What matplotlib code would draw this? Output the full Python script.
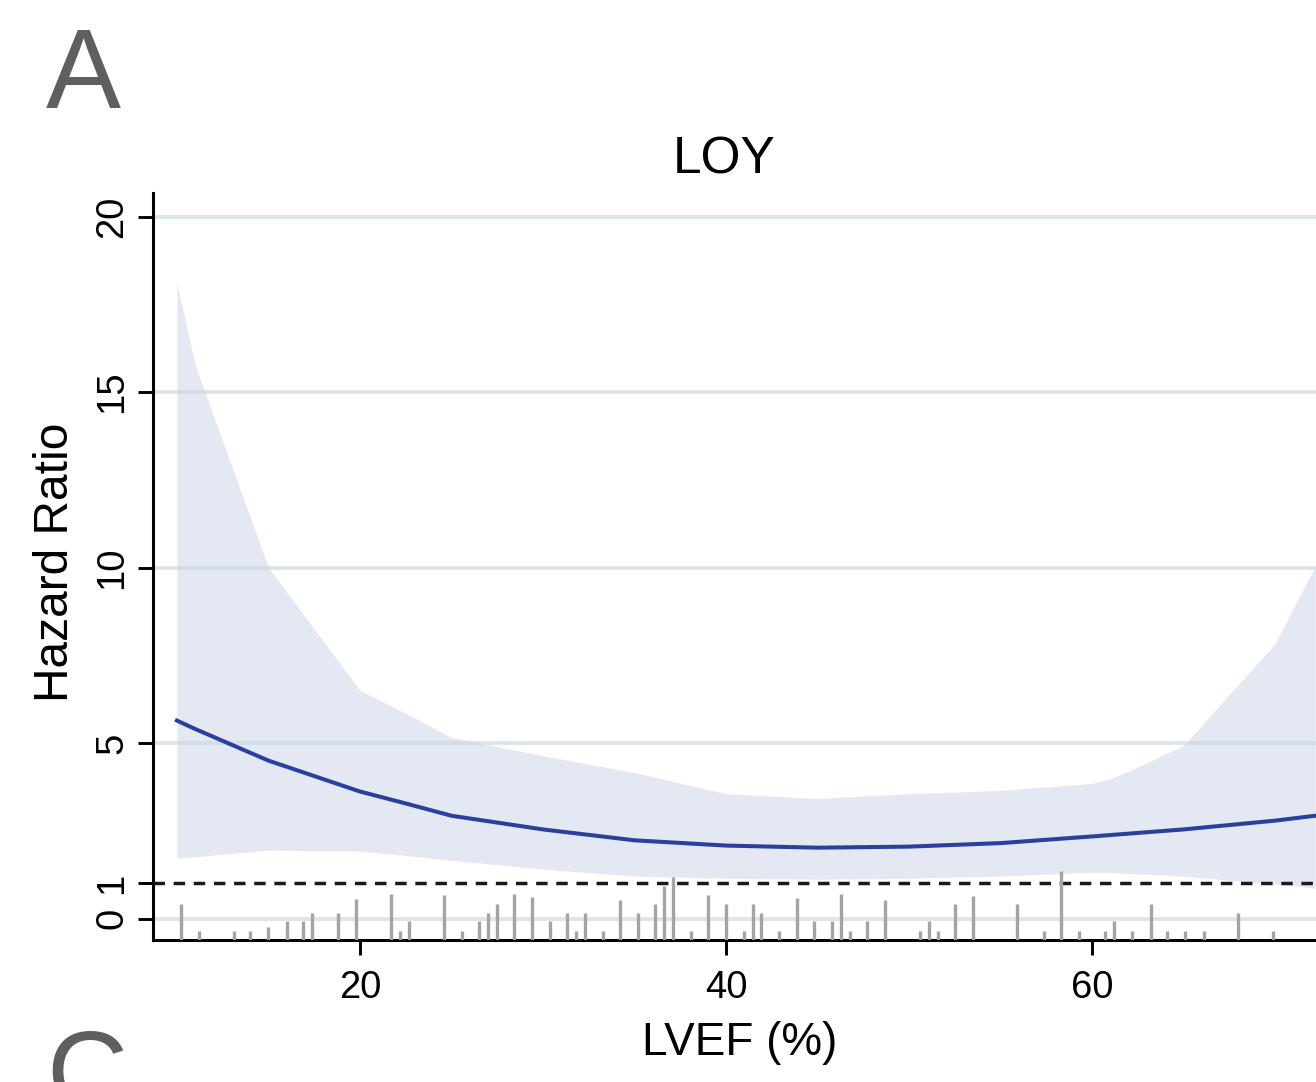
import matplotlib
matplotlib.use("Agg")
import matplotlib.pyplot as plt
import numpy as np

plt.rcParams["font.family"] = ["Liberation Sans", "DejaVu Sans"]

# spline estimate: LVEF vs hazard ratio
lvef = [10, 11, 15, 20, 22.5, 25, 30, 35, 40, 45, 50, 55, 60, 61, 62, 65, 70, 72.2]
hr = [5.64, 5.4, 4.5, 3.62, 3.28, 2.93, 2.54, 2.23, 2.08, 2.02, 2.05, 2.15, 2.34, 2.38, 2.42, 2.54, 2.79, 2.93]
hr_upper = [18.09, 15.76, 10.0, 6.5, 5.85, 5.16, 4.64, 4.16, 3.56, 3.42, 3.56, 3.65, 3.85, 3.99, 4.2, 4.93, 7.83, 10.05]
hr_lower = [1.72, 1.76, 1.95, 1.92, 1.8, 1.66, 1.41, 1.21, 1.15, 1.12, 1.15, 1.21, 1.32, 1.31, 1.29, 1.21, 0.98, 0.87]

# rug of observed LVEF values (spike heights in HR units)
rug_x = [10.2, 11.2, 13.1, 14.0, 15.0, 16.0, 16.9, 17.4, 18.8, 19.8,
         21.7, 22.2, 22.7, 24.6, 25.6, 26.5, 27.0, 27.5, 28.4, 29.4,
         30.4, 31.3, 31.8, 32.3, 33.3, 34.2, 35.2, 36.1, 36.6, 37.1,
         38.1, 39.0, 40.0, 41.0, 41.5, 41.9, 42.9, 43.9, 44.8, 45.8,
         46.3, 46.8, 47.7, 48.7, 50.6, 51.1, 51.6, 52.5, 53.5, 55.9,
         57.4, 58.3, 59.3, 60.7, 61.2, 62.2, 63.2, 64.1, 65.1, 66.1,
         68.0, 69.9]
rug_h = [1.03, 0.26, 0.26, 0.26, 0.36, 0.53, 0.53, 0.78, 0.78, 1.17,
         1.31, 0.26, 0.53, 1.28, 0.26, 0.53, 0.78, 1.03, 1.31, 1.22,
         0.53, 0.78, 0.26, 0.78, 0.26, 1.14, 0.78, 1.03, 1.55, 1.79,
         0.26, 1.28, 1.03, 0.26, 1.03, 0.78, 0.26, 1.19, 0.53, 0.53,
         1.31, 0.26, 0.53, 1.14, 0.26, 0.53, 0.26, 1.03, 1.26, 1.03,
         0.26, 1.96, 0.26, 0.26, 0.53, 0.26, 1.03, 0.26, 0.26, 0.26,
         0.78, 0.26]

y_ticks = [0, 1, 5, 10, 15, 20]
x_ticks = [20, 40, 60]

Y_MIN, Y_MAX = -0.61, 20.67
X_MIN, X_MAX = 8.69, 72.24

fig = plt.figure(figsize=(13.16, 10.82), dpi=100)
ax = fig.add_axes([153 / 1316, 1 - 940 / 1082, 1 - 153 / 1316, (940 - 193) / 1082])

ax.fill_between(lvef, hr_lower, hr_upper, color="#E3E8F2", lw=0, zorder=1)
for g in [0, 5, 10, 15, 20]:
    ax.axhline(g, color="#C9DCE3", lw=2.8, alpha=0.7, zorder=2)
ax.vlines(rug_x, Y_MIN, Y_MIN + np.array(rug_h), color="#A4A4A8", lw=2.4, zorder=4)
ax.axhline(1, color="#1A1A1A", lw=2.5, ls=(0, (3.3, 2.5)), zorder=3)
ax.plot(lvef, hr, color="#2A3F9E", lw=2.9, zorder=5)

ax.set_xlim(X_MIN, X_MAX)
ax.set_ylim(Y_MIN, Y_MAX)
ax.set_xticks(x_ticks)
ax.set_yticks(y_ticks)
ax.tick_params(axis="both", length=10.5, width=2.1, color="black", labelsize=27.5)
ax.tick_params(axis="x", pad=11)
ax.tick_params(axis="y", pad=6)
for lbl in ax.get_yticklabels():
    lbl.set_rotation(90)
    lbl.set_va("center")
for side in ["top", "right"]:
    ax.spines[side].set_visible(False)
for side in ["left", "bottom"]:
    ax.spines[side].set_linewidth(2.2)

fig.text(724 / 1316, 1 - 160 / 1082, "LOY", fontsize=37, ha="center", va="center")
fig.text(740 / 1316, 1 - 1043 / 1082, "LVEF (%)", fontsize=33, ha="center", va="center")
fig.text(55 / 1316, 1 - 562 / 1082, "Hazard Ratio", fontsize=34.5, rotation=90,
         ha="center", va="center")
fig.text(46 / 1316, 1 - 108 / 1082, "A", fontsize=81, color="#5F5F5F", ha="left", va="baseline")
fig.text(46 / 1316, 1 - 1110 / 1082, "C", fontsize=81, color="#5F5F5F", ha="left", va="baseline")

fig.savefig("out.png", dpi=100)
